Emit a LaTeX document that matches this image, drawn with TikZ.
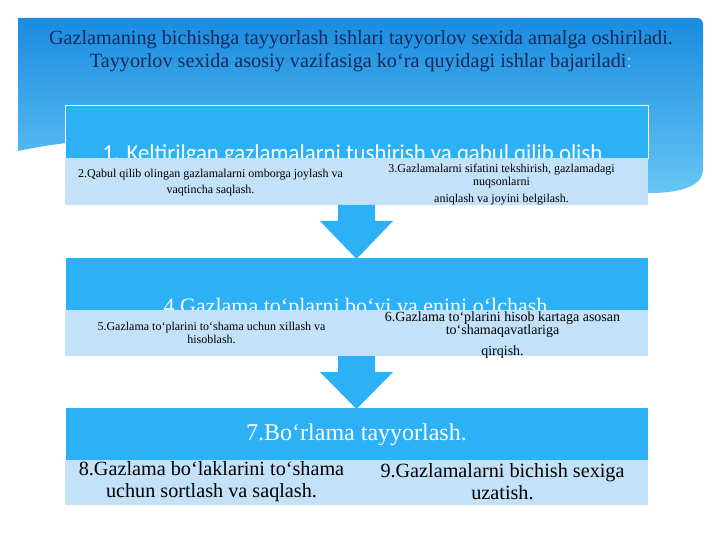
\documentclass[tikz,border=0pt]{standalone}
\usepackage{fontspec}
\setmainfont{Liberation Serif}
\newfontfamily\calib{Carlito}
\usetikzlibrary{positioning, calc}

\definecolor{hdrtop}{HTML}{1A8BDF}
\definecolor{hdrbot}{HTML}{66C6F5}
\definecolor{boxblue}{HTML}{2DB1F6}
\definecolor{boxlight}{HTML}{C3E2FA}
\definecolor{navy}{HTML}{13285A}
\definecolor{colonblue}{HTML}{86D6F8}

\begin{document}
\begin{tikzpicture}[x=1pt, y=-1pt, node distance=0pt]
  \tikzstyle{topbox}=[draw=white, line width=0.6pt, fill=boxblue, minimum width=583pt, minimum height=53pt, inner sep=0pt, outer sep=0pt]
  \tikzstyle{subbox}=[fill=boxlight, minimum width=583pt, inner sep=0pt, outer sep=0pt]
  \tikzstyle{headtext}=[text=white, inner sep=0pt, anchor=base]
  \tikzstyle{smalltext}=[align=center, inner sep=0pt, font=\fontsize{12}{16}\selectfont]
  \tikzstyle{bigtext}=[align=center, inner sep=0pt, font=\fontsize{20.2}{22.5}\selectfont]
  \tikzstyle{arrowfill}=[fill=boxblue]

  \useasboundingbox[fill=white] (0,0) rectangle (720,540);

  % Header band
  \shade[top color=hdrtop, bottom color=hdrbot, rounded corners=6pt]
    (18,18) -- (703,18) -- (703,176) [sharp corners] .. controls (690,190) and (670,193) .. (650,193)
    .. controls (450,172) and (200,112) .. (18,151) -- cycle;
  \node[align=center, text=navy, font=\fontsize{20.2}{22.5}\selectfont] (title) at (361,51)
    {Gazlamaning bichishga tayyorlash ishlari tayyorlov sexida amalga oshiriladi.\\
     Tayyorlov sexida asosiy vazifasiga ko‘ra quyidagi ishlar bajariladi\textcolor{colonblue}{:}};

  % Step 1
  \node[topbox, anchor=north] (top1) at (356.5,105) {};
  \node[headtext, font=\calib\fontsize{22.8}{26}\selectfont] (h1) at ([xshift=-4pt,yshift=-3pt]top1.south)
    {1. Keltirilgan gazlamalarni tushirish va qabul qilib olish};
  \node[subbox, minimum height=47pt, below=of top1] (sub1) {};
  \node[smalltext] (s2) at ([xshift=-146pt,yshift=-1pt]sub1.center)
    {2.Qabul qilib olingan gazlamalarni omborga joylash va\\ vaqtincha saqlash.};
  \node[smalltext, font=\fontsize{12}{13}\selectfont] (s3) at ([xshift=145pt,yshift=-3pt]sub1.center)
    {3.Gazlamalarni sifatini tekshirish, gazlamadagi\\ nuqsonlarni\\[4pt] aniqlash va joyini belgilash.};

  % Step 2
  \node[topbox, below=52pt of sub1] (top2) {};
  \node[headtext, font=\fontsize{22}{26}\selectfont] (h4) at ([xshift=-1pt,yshift=-3pt]top2.south)
    {4.Gazlama to‘plarni bo‘yi va enini o‘lchash};
  \node[subbox, minimum height=46pt, below=of top2] (sub2) {};
  \node[smalltext, font=\fontsize{12}{13}\selectfont] (s5) at ([xshift=-145pt,yshift=0pt]sub2.center)
    {5.Gazlama to‘plarini to‘shama uchun xillash va\\ hisoblash.};
  \node[smalltext, font=\fontsize{14}{13.5}\selectfont] (s6) at ([xshift=146pt,yshift=-2pt]sub2.center)
    {6.Gazlama to‘plarini hisob kartaga asosan\\ to‘shamaqavatlariga\\[7pt] qirqish.};

  % Step 3
  \node[topbox, below=51pt of sub2] (top3) {};
  \node[text=white, inner sep=0pt, font=\fontsize{24}{26}\selectfont] (h7) at ([yshift=-1pt]top3.center)
    {7.Bo‘rlama tayyorlash.};
  \node[subbox, minimum height=45pt, below=of top3] (sub3) {};
  \node[bigtext] (s8) at ([xshift=-145pt,yshift=1pt]sub3.center)
    {8.Gazlama bo‘laklarini to‘shama\\ uchun sortlash va saqlash.};
  \node[bigtext] (s9) at ([xshift=146pt,yshift=1pt]sub3.center)
    {9.Gazlamalarni bichish sexiga\\ uzatish.};

  % Arrows between steps
  \foreach \a/\b in {sub1/top2, sub2/top3}{
    \fill[arrowfill] ([xshift=-18.5pt]\a.south) -- ([xshift=18.5pt]\a.south)
      -- ([xshift=18.5pt,yshift=-16pt]\a.south) -- ([xshift=36.5pt,yshift=-16pt]\a.south)
      -- ([yshift=-2pt]\b.north) -- ([xshift=-36.5pt,yshift=-16pt]\a.south)
      -- ([xshift=-18.5pt,yshift=-16pt]\a.south) -- cycle;
  }
\end{tikzpicture}
\end{document}
